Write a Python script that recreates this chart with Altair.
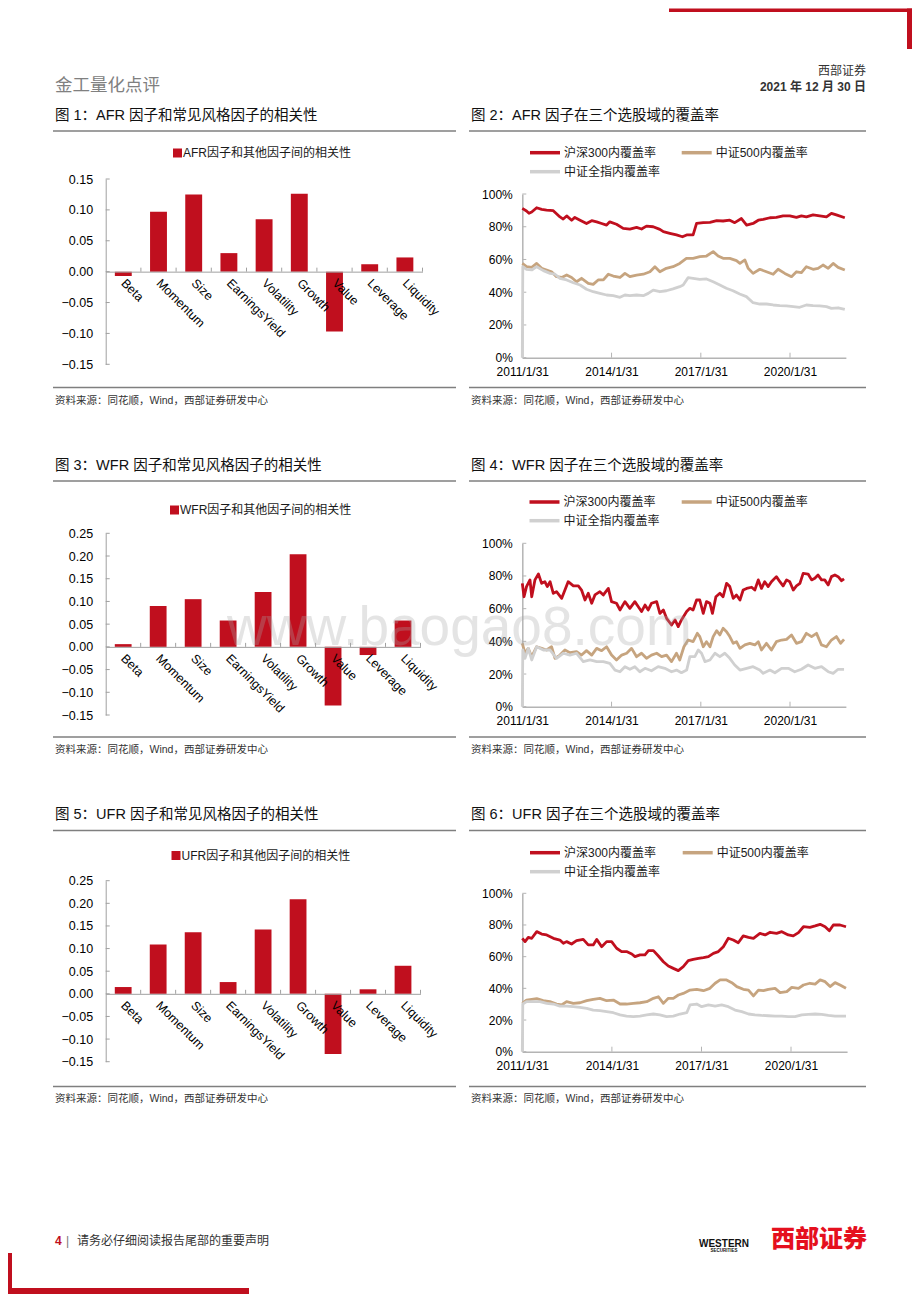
import altair as alt
import pandas as pd

# ---------------------------------------------------------------- data
FACTORS = ["Beta", "Momentum", "Size", "EarningsYield", "Volatility",
           "Growth", "Value", "Leverage", "Liquidity"]
AFR_CORR = [-0.007, 0.097, 0.125, 0.030, 0.085, 0.126, -0.097, 0.012, 0.023]
WFR_CORR = [0.006, 0.090, 0.105, 0.058, 0.121, 0.204, -0.129, -0.018, 0.058]
UFR_CORR = [0.015, 0.109, 0.136, 0.026, 0.142, 0.209, -0.133, 0.010, 0.062]
BAR_Y_TICKS_A = [-0.15, -0.10, -0.05, 0.0, 0.05, 0.10, 0.15]
BAR_Y_TICKS_B = [-0.15, -0.10, -0.05, 0.0, 0.05, 0.10, 0.15, 0.20, 0.25]

SERIES_NAMES = ["沪深300内覆盖率", "中证500内覆盖率", "中证全指内覆盖率"]
DATE_TICKS = ["2011/1/31", "2014/1/31", "2017/1/31", "2020/1/31"]
PCT_TICKS = [0, 20, 40, 60, 80, 100]

# (months since 2011/1/31, coverage %)
AFR_HS300 = [(0, 91.2), (1.7, 89.6), (2.7, 88.2), (3.8, 89.0), (5.8, 91.6), (7.8, 90.6), (9.8, 90.2),
             (12.5, 89.8), (15.2, 86.0), (16.5, 84.7), (17.9, 86.6), (19.9, 84.0), (21.2, 85.7), (23.3, 84.0),
             (25.9, 82.0), (28.0, 83.7), (30.0, 83.0), (32.0, 82.0), (34.0, 81.0), (35.3, 83.0), (38.0, 81.5),
             (40.7, 79.0), (43.4, 78.6), (46.1, 79.6), (48.1, 78.6), (50.1, 80.4), (52.8, 80.0), (55.5, 78.4),
             (56.9, 77.0), (59.5, 76.0), (62.2, 75.0), (64.6, 73.9), (66.3, 75.0), (68.9, 75.0), (70.3, 82.0),
             (73.0, 82.5), (75.7, 82.7), (78.4, 83.7), (81.0, 83.5), (83.7, 84.0), (85.7, 82.5), (88.4, 85.0),
             (90.5, 81.0), (93.1, 82.0), (95.2, 84.0), (97.2, 84.5), (99.9, 85.5), (102.5, 85.7), (105.2, 86.6),
             (107.9, 86.6), (110.6, 85.7), (112.6, 86.6), (114.6, 86.0), (117.3, 87.2), (120.0, 86.6),
             (122.7, 86.0), (124.7, 88.2), (126.7, 87.2), (130.1, 85.5)]
AFR_ZZ500 = [(0, 57.6), (1.7, 55.6), (3.8, 55.2), (5.8, 57.6), (7.8, 54.6), (9.8, 53.6), (11.8, 52.5),
             (13.8, 49.5), (15.9, 49.0), (17.9, 50.5), (19.9, 49.0), (21.9, 46.4), (23.9, 48.5), (26.6, 45.4),
             (28.6, 44.8), (30.6, 47.5), (32.7, 47.5), (34.7, 51.0), (36.7, 49.9), (39.4, 49.0), (41.4, 51.5),
             (43.4, 49.5), (46.1, 50.5), (48.8, 51.0), (51.5, 52.5), (53.5, 55.6), (55.5, 52.5), (58.1, 54.6),
             (60.8, 55.6), (63.5, 57.6), (66.2, 60.7), (68.9, 60.7), (71.6, 61.7), (74.3, 62.1), (77.0, 64.8),
             (79.0, 62.1), (81.0, 60.7), (83.7, 60.7), (86.4, 59.3), (87.8, 57.6), (89.8, 59.7), (91.1, 54.6),
             (93.1, 51.5), (95.8, 54.0), (98.5, 52.5), (101.2, 51.0), (103.2, 54.0), (105.9, 51.5), (108.6, 49.5),
             (110.6, 52.5), (112.6, 52.0), (114.6, 55.6), (117.3, 54.0), (119.3, 54.6), (121.3, 56.6),
             (123.4, 54.6), (125.4, 57.6), (127.4, 55.2), (130.1, 53.6)]
AFR_ALL = [(0, 0.0), (0.2, 55.6), (1.7, 54.0), (3.8, 53.6), (5.8, 55.6), (8.5, 53.2), (11.2, 51.5), (13.2, 51.0),
           (15.2, 48.5), (17.9, 47.5), (20.6, 45.8), (23.3, 44.4), (25.9, 41.8), (28.6, 40.3), (31.3, 39.3),
           (34.0, 38.3), (36.7, 37.9), (39.4, 36.9), (41.4, 38.3), (43.4, 37.9), (46.1, 38.3), (48.8, 37.9),
           (50.8, 39.3), (52.8, 41.3), (55.5, 40.3), (58.1, 40.9), (60.8, 42.0), (63.5, 43.4), (64.9, 44.4),
           (66.9, 48.9), (68.9, 48.5), (71.6, 47.9), (74.3, 48.1), (77.0, 46.4), (79.7, 44.4), (82.3, 42.4),
           (85.0, 40.9), (87.7, 38.9), (90.4, 37.3), (93.1, 33.6), (95.8, 32.8), (98.5, 32.8), (101.2, 32.2),
           (103.9, 31.8), (106.6, 31.6), (109.3, 31.2), (111.9, 30.8), (114.6, 32.2), (117.3, 31.8),
           (120.0, 31.6), (122.7, 31.2), (124.7, 30.1), (127.4, 30.5), (130.1, 29.5)]

WFR_HS300 = [(0, 75.5), (0.7, 67.3), (1.7, 73.5), (3.1, 77.6), (3.8, 67.3), (5.1, 77.6), (6.5, 81.2),
             (7.8, 75.5), (9.1, 76.5), (10.1, 73.5), (11.2, 76.5), (12.5, 69.4), (13.8, 70.4), (15.9, 66.3),
             (17.2, 71.4), (18.5, 76.5), (20.6, 73.9), (22.6, 73.9), (23.9, 71.4), (25.3, 65.3), (26.6, 69.4),
             (28.0, 63.3), (29.3, 68.4), (31.3, 70.4), (32.7, 68.4), (34.7, 72.4), (36.0, 64.3), (38.0, 63.3),
             (39.4, 59.2), (41.4, 64.3), (43.4, 60.2), (45.4, 64.3), (46.8, 61.2), (48.1, 58.2), (49.5, 62.2),
             (50.8, 59.2), (52.1, 63.3), (54.2, 64.3), (55.5, 57.1), (56.9, 59.2), (58.2, 54.1), (60.2, 50.0),
             (61.6, 53.1), (62.9, 49.0), (64.2, 53.1), (66.3, 58.2), (67.6, 60.2), (68.9, 59.2), (70.3, 65.3),
             (71.6, 65.3), (73.0, 57.1), (74.3, 64.3), (75.7, 63.3), (76.7, 57.1), (78.1, 67.3), (79.7, 69.4),
             (81.0, 67.3), (82.4, 75.5), (83.7, 73.5), (85.1, 66.3), (86.4, 68.4), (87.8, 65.3), (89.1, 71.4),
             (90.5, 72.4), (92.5, 73.1), (93.8, 71.4), (95.2, 77.6), (96.5, 72.4), (97.8, 76.5), (99.2, 73.5),
             (100.5, 76.5), (102.5, 79.6), (103.9, 76.5), (105.2, 73.9), (106.6, 77.6), (107.9, 76.5),
             (109.3, 71.4), (110.6, 73.9), (112.0, 75.5), (113.3, 81.6), (115.3, 81.2), (116.7, 77.6),
             (118.0, 78.6), (119.3, 80.6), (120.7, 77.6), (122.0, 77.6), (123.4, 74.5), (124.7, 79.6),
             (126.1, 80.6), (127.4, 79.6), (128.8, 77.1), (129.8, 78.2)]
WFR_ZZ500 = [(0, 38.8), (1.1, 32.7), (2.4, 35.7), (3.8, 30.6), (5.8, 36.7), (7.8, 35.7), (9.8, 34.7),
             (11.8, 36.7), (13.2, 29.6), (15.2, 31.6), (17.2, 34.7), (19.2, 33.1), (21.9, 33.7), (23.9, 31.6),
             (25.9, 34.3), (28.0, 31.6), (30.0, 35.7), (32.0, 34.3), (34.0, 36.7), (36.0, 31.6), (38.0, 28.6),
             (40.1, 31.6), (42.1, 32.7), (44.1, 35.7), (46.1, 30.6), (48.1, 32.7), (50.1, 29.6), (52.1, 31.6),
             (54.2, 32.7), (56.2, 30.6), (58.2, 31.6), (60.2, 27.6), (62.2, 32.7), (63.5, 28.6), (65.2, 36.7),
             (66.9, 40.8), (68.9, 39.8), (70.6, 44.9), (71.6, 42.9), (73.0, 36.7), (74.3, 39.8), (75.7, 36.7),
             (77.0, 42.9), (78.4, 46.5), (79.7, 43.9), (81.0, 48.0), (82.4, 45.9), (83.7, 42.9), (85.1, 38.8),
             (86.4, 39.8), (87.8, 35.7), (89.8, 37.8), (91.8, 38.8), (93.8, 37.8), (95.2, 39.8), (96.5, 34.7),
             (98.5, 38.8), (100.5, 34.7), (102.5, 39.8), (104.6, 40.8), (106.6, 41.2), (108.6, 43.9),
             (110.6, 38.8), (112.6, 39.8), (114.6, 44.9), (116.7, 42.9), (118.7, 44.9), (120.7, 37.8),
             (122.7, 36.7), (124.7, 40.8), (126.7, 42.9), (128.4, 38.8), (129.8, 41.2)]
WFR_ALL = [(0, 0.0), (0.2, 34.7), (1.1, 29.6), (2.4, 35.7), (3.8, 28.6), (5.8, 36.7), (8.5, 34.7), (11.2, 34.7),
           (13.8, 29.6), (16.5, 32.7), (19.2, 31.6), (21.9, 32.7), (24.6, 27.6), (27.3, 28.6), (30.0, 27.6),
           (32.7, 27.6), (35.3, 26.5), (37.4, 22.4), (39.4, 21.4), (41.4, 24.5), (43.4, 22.9), (45.4, 24.5),
           (47.4, 21.4), (49.5, 23.5), (52.1, 22.0), (54.8, 24.5), (57.5, 23.5), (60.2, 21.4), (62.2, 22.4),
           (64.2, 20.8), (66.3, 22.4), (67.6, 30.6), (69.6, 30.6), (71.0, 34.7), (72.3, 32.7), (73.7, 27.6),
           (75.7, 28.6), (77.7, 32.7), (79.7, 30.6), (81.7, 32.7), (83.7, 29.6), (85.7, 25.5), (87.8, 22.4),
           (90.5, 23.5), (93.1, 24.5), (95.8, 22.4), (97.2, 20.4), (99.9, 22.4), (101.9, 20.8), (104.6, 23.5),
           (107.3, 23.5), (109.9, 21.4), (112.6, 22.9), (115.3, 25.5), (118.0, 23.5), (120.7, 24.5),
           (123.4, 21.4), (125.4, 20.4), (127.4, 22.9), (129.8, 22.9)]

UFR_HS300 = [(0, 71.6), (1.1, 69.5), (2.4, 72.2), (3.8, 71.6), (5.8, 75.8), (7.8, 74.3), (9.8, 73.7),
             (12.5, 71.6), (15.1, 70.5), (16.5, 68.4), (17.8, 69.5), (19.8, 68.0), (21.8, 70.1), (24.5, 70.9),
             (26.5, 67.4), (28.5, 67.4), (29.9, 70.9), (31.9, 66.3), (33.9, 69.5), (35.9, 69.5), (37.9, 65.3),
             (39.9, 63.2), (41.9, 63.2), (44.0, 61.7), (45.3, 60.0), (47.3, 61.1), (49.3, 61.1), (50.7, 63.8),
             (52.7, 63.8), (54.7, 60.4), (56.7, 56.8), (58.7, 54.1), (60.7, 52.6), (62.7, 51.2), (64.7, 53.7),
             (66.7, 57.5), (68.7, 58.3), (70.8, 58.9), (72.8, 59.4), (74.8, 60.0), (76.8, 62.1), (78.8, 63.2),
             (80.8, 66.3), (82.8, 71.6), (84.8, 70.5), (86.8, 68.8), (88.8, 73.1), (90.9, 72.2), (92.9, 71.6),
             (95.5, 74.7), (97.6, 73.7), (99.6, 75.4), (102.2, 74.7), (104.3, 75.8), (106.9, 73.7),
             (108.9, 73.1), (111.0, 75.2), (113.0, 78.9), (115.6, 78.5), (117.7, 79.4), (119.7, 80.4),
             (121.7, 78.9), (123.4, 76.4), (125.0, 80.0), (127.7, 80.0), (130.1, 78.9)]
UFR_ZZ500 = [(0, 30.5), (1.7, 32.6), (3.8, 33.1), (5.8, 33.5), (8.4, 32.2), (11.1, 31.6), (13.8, 30.1),
             (15.8, 29.5), (17.8, 31.6), (20.5, 30.5), (23.2, 30.9), (25.9, 32.2), (28.5, 33.1), (31.2, 33.7),
             (33.9, 32.2), (36.6, 32.6), (39.3, 30.1), (41.9, 30.1), (44.6, 30.5), (47.3, 30.9), (50.0, 31.6),
             (52.7, 33.7), (54.7, 34.7), (56.7, 30.5), (58.7, 33.7), (60.7, 33.7), (62.7, 35.8), (64.7, 36.8),
             (67.4, 38.9), (70.1, 39.4), (72.8, 38.5), (75.4, 40.0), (77.5, 43.2), (79.5, 45.3), (82.1, 45.3),
             (84.2, 43.6), (86.2, 41.1), (88.8, 39.4), (90.9, 38.9), (92.9, 35.2), (94.9, 38.9), (96.9, 38.5),
             (98.9, 39.4), (101.6, 40.0), (103.6, 37.3), (106.3, 37.9), (108.3, 40.6), (111.0, 40.0),
             (113.0, 42.1), (115.6, 43.2), (117.7, 42.7), (119.7, 45.3), (121.7, 44.2), (123.7, 41.1),
             (125.7, 43.6), (127.7, 42.1), (130.1, 40.0)]
UFR_ALL = [(0, 0.0), (0.2, 30.1), (1.7, 31.6), (4.4, 31.6), (7.1, 31.6), (9.8, 30.5), (12.5, 30.1), (15.1, 28.8),
           (17.8, 28.8), (20.5, 28.4), (23.2, 28.0), (25.9, 27.4), (28.5, 26.3), (31.2, 25.9), (33.9, 25.3),
           (36.6, 24.6), (39.3, 23.2), (41.9, 22.5), (44.6, 22.1), (47.3, 22.5), (50.0, 23.2), (52.7, 23.8),
           (55.3, 23.2), (58.0, 22.1), (60.7, 22.5), (63.4, 23.8), (66.1, 24.6), (67.4, 29.5), (70.1, 30.1),
           (72.1, 28.4), (74.8, 29.5), (77.5, 28.8), (80.1, 29.5), (82.8, 28.4), (85.5, 26.3), (88.2, 25.3),
           (90.9, 23.8), (93.5, 23.2), (96.2, 22.9), (98.9, 22.7), (101.6, 22.5), (104.3, 22.5), (106.9, 22.1),
           (109.6, 22.1), (112.3, 23.2), (115.0, 23.6), (117.7, 23.8), (120.3, 23.6), (123.0, 22.9),
           (125.7, 22.5), (130.1, 22.5)]

# ---------------------------------------------------------------- style / layout
OX, OY = 8, 8
W, H = 904, 1286
RED = "#C00F1E"
TAN = "#C6A47F"
GRAY = "#D0D0D0"
AXIS_C = "#A0A0A0"
LAXIS_C = "#B4B4B4"
LATIN = "Liberation Sans"
MIX = "Liberation Sans, Noto Sans CJK SC"
TXT = "#1A1A1A"

START = pd.Timestamp("2011-01-31")
END = pd.Timestamp("2021-12-17")


def dt(ts):
    return alt.DateTime(year=ts.year, month=ts.month, date=ts.day)


def text_layer(items, size, color=TXT, align="left", weight="normal", font=MIX,
               baseline="middle", opacity=1.0):
    df = pd.DataFrame({"x": [i[0] - OX for i in items],
                       "y": [i[1] - OY for i in items],
                       "t": [i[2] for i in items]})
    return alt.Chart(df).mark_text(align=align, baseline=baseline, fontSize=size, color=color,
                                   fontWeight=weight, font=font, opacity=opacity).encode(
        x=alt.X("x:Q", scale=None, axis=None),
        y=alt.Y("y:Q", scale=None, axis=None),
        text="t:N")


def seg_layer(segs, color, width, kind="rule"):
    df = pd.DataFrame({"x": [s[0] - OX for s in segs], "x2": [s[1] - OX for s in segs],
                       "y": [s[2] - OY for s in segs], "y2": [s[3] - OY for s in segs]})
    if kind == "rule":
        m = alt.Chart(df).mark_rule(color=color, strokeWidth=width)
    else:
        m = alt.Chart(df).mark_rect(color=color)
    return m.encode(x=alt.X("x:Q", scale=None, axis=None), x2="x2:Q",
                    y=alt.Y("y:Q", scale=None, axis=None), y2="y2:Q")


def bar_panel(vals, legend, box, lo, hi, yvals, leg):
    x0, x1, ytop, ybot = box
    X0, X1, YT, YB = x0 - OX, x1 - OX, ytop - OY, ybot - OY
    yzero = YB + (YT - YB) * (0 - lo) / (hi - lo)

    def ys():
        return alt.Scale(domain=[lo, hi], range=[YB, YT], nice=False)

    df = pd.DataFrame({"factor": FACTORS, "corr": vals})
    bars = alt.Chart(df).mark_bar(color=RED).encode(
        x=alt.X("factor:N", sort=FACTORS, title=None,
                scale=alt.Scale(domain=FACTORS, range=[X0, X1], paddingInner=0.52, paddingOuter=0.26),
                axis=alt.Axis(orient="bottom", offset=yzero - H, domainColor=AXIS_C, domainWidth=1,
                              ticks=False, tickSize=0, labelAngle=45, labelAlign="left",
                              labelBaseline="middle", labelPadding=9, labelFontSize=12.5,
                              labelFont=LATIN, labelColor="#000", labelOverlap=False,
                              labelBound=False, grid=False, zindex=1)),
        y=alt.Y("corr:Q", title=None, stack=None, scale=ys(),
                axis=alt.Axis(orient="left", offset=-X0, values=yvals, format=".2f",
                              domainColor=AXIS_C, domainWidth=1, ticks=False, tickSize=0,
                              labelPadding=13, labelFontSize=12.5, labelFont=LATIN,
                              labelColor="#000", grid=False, labelOverlap=False, labelFlush=False)),
    )
    yt = alt.Chart(pd.DataFrame({"v": yvals})).mark_rule(color=AXIS_C, strokeWidth=1).encode(
        y=alt.Y("v:Q", scale=ys(), axis=None), x=alt.value(X0), x2=alt.value(X0 + 4))
    xt = alt.Chart(pd.DataFrame({"k": list(range(1, len(FACTORS) + 1))})).mark_rule(
        color=AXIS_C, strokeWidth=1).encode(
        x=alt.X("k:Q", scale=alt.Scale(domain=[0, len(FACTORS)], range=[X0, X1]), axis=None),
        y=alt.value(yzero), y2=alt.value(yzero - 4))
    lx, ly = leg
    sq = seg_layer([(lx, lx + 9, ly - 4.5, ly + 4.5)], RED, 0, kind="rect")
    lt = text_layer([(lx + 10, ly, legend)], 12)
    return [yt, xt, bars, sq, lt]


def to_df(pairs):
    return pd.DataFrame({
        "date": [START + pd.Timedelta(days=round(p[0] * 30.4375, 2)) for p in pairs],
        "pct": [p[1] for p in pairs]})


def line_panel(series, box, x2020, leg):
    x0, ytop, ybot = box
    X0, YT, YB = x0 - OX, ytop - OY, ybot - OY
    d2020 = (pd.Timestamp("2020-01-31") - START).days
    dend = (END - START).days
    XE = X0 + (x2020 - x0) * dend / d2020

    def xs():
        return alt.Scale(domain=[dt(START), dt(END)], range=[X0, XE])

    def ys():
        return alt.Scale(domain=[0, 100], range=[YB, YT], nice=False)

    tick_dates = [pd.Timestamp(s.replace("/", "-")) for s in DATE_TICKS]
    out = []
    colors = [RED, TAN, GRAY]
    for i, pairs in enumerate(series):
        df = to_df(pairs)
        if i == 0:
            xa = alt.Axis(orient="bottom", offset=YB - H, values=[dt(t) for t in tick_dates],
                          format="%Y/%-m/%-d", formatType="time", labelFlush=False,
                          ticks=False, tickSize=0, labelPadding=9, labelFontSize=12,
                          labelFont=LATIN, labelColor="#000", domainColor=LAXIS_C,
                          domainWidth=1.5, labelOverlap=False, grid=False)
            ya = alt.Axis(orient="left", offset=-X0, values=PCT_TICKS,
                          labelExpr="datum.value + '%'", ticks=False, tickSize=0,
                          labelPadding=10, labelFontSize=12, labelFont=LATIN, labelColor="#000",
                          domainColor=LAXIS_C, domainWidth=1.5, grid=False, labelFlush=False,
                          labelOverlap=False)
        else:
            xa = None
            ya = None
        out.append(alt.Chart(df).mark_line(color=colors[i], strokeWidth=2.8, strokeJoin="round").encode(
            x=alt.X("date:T", title=None, scale=xs(), axis=xa),
            y=alt.Y("pct:Q", title=None, scale=ys(), axis=ya)))
    yt = alt.Chart(pd.DataFrame({"v": PCT_TICKS})).mark_rule(color=LAXIS_C, strokeWidth=1).encode(
        y=alt.Y("v:Q", scale=ys(), axis=None), x=alt.value(X0), x2=alt.value(X0 + 4))
    xt = alt.Chart(pd.DataFrame({"d": tick_dates[1:]})).mark_rule(color=LAXIS_C, strokeWidth=1).encode(
        x=alt.X("d:T", scale=xs(), axis=None), y=alt.value(YB), y2=alt.value(YB - 5))
    (ax, bx, ly1, ly2) = leg
    samples = [seg_layer([(ax, ax + 30, ly1, ly1)], RED, 3.5),
               seg_layer([(bx, bx + 30, ly1, ly1)], TAN, 3.5),
               seg_layer([(ax, ax + 30, ly2, ly2)], GRAY, 3.5)]
    labels = text_layer([(ax + 34, ly1, SERIES_NAMES[0]), (bx + 34, ly1, SERIES_NAMES[1]),
                         (ax + 34, ly2, SERIES_NAMES[2])], 12)
    return [yt, xt] + out + samples + [labels]


# ---------------------------------------------------------------- page
layers = []

# header
layers.append(seg_layer([(669, 912, 8.5, 12)], RED, 0, kind="rect"))
layers.append(seg_layer([(907, 912, 8.5, 49)], RED, 0, kind="rect"))
layers.append(text_layer([(55, 86, "金工量化点评")], 17.5, color="#808080"))
layers.append(text_layer([(866, 71, "西部证券")], 12, align="right", color="#333333"))
layers.append(text_layer([(866, 87, "2021 年 12 月 30 日")], 12, align="right", weight="bold",
                         color="#333333"))

TITLES = [(55, 116, "图 1：AFR 因子和常见风格因子的相关性"), (471, 116, "图 2：AFR 因子在三个选股域的覆盖率"),
          (55, 466, "图 3：WFR 因子和常见风格因子的相关性"), (471, 466, "图 4：WFR 因子在三个选股域的覆盖率"),
          (55, 815, "图 5：UFR 因子和常见风格因子的相关性"), (471, 815, "图 6：UFR 因子在三个选股域的覆盖率")]
layers.append(text_layer(TITLES, 14.5, color="#111111"))

SRC = "资料来源：同花顺，Wind，西部证券研发中心"
layers.append(text_layer([(55, 401, SRC), (471, 401, SRC), (55, 750, SRC), (471, 750, SRC),
                          (55, 1099, SRC), (471, 1099, SRC)], 10.5, color="#333333"))

HL = []
for y in (131, 387.5, 481, 737, 830.5, 1086.5):
    HL.append((53, 456, y, y))
    HL.append((469, 866, y, y))
layers.append(seg_layer(HL, "#7F7F7F", 1.3))

# panels
layers += bar_panel(AFR_CORR, "AFR因子和其他因子间的相关性", (105.7, 422.5, 179, 364.3),
                    -0.15, 0.15, BAR_Y_TICKS_A, (173, 153))
layers += bar_panel(WFR_CORR, "WFR因子和其他因子间的相关性", (105.7, 420.5, 533.3, 715),
                    -0.15, 0.25, BAR_Y_TICKS_B, (170, 510))
layers += bar_panel(UFR_CORR, "UFR因子和其他因子间的相关性", (105.7, 420.5, 880.7, 1061.7),
                    -0.15, 0.25, BAR_Y_TICKS_B, (171.5, 855.5))

layers += line_panel([AFR_HS300, AFR_ZZ500, AFR_ALL], (522.3, 194, 357.7), 790,
                     (530, 681.7, 152.7, 171.7))
layers += line_panel([WFR_HS300, WFR_ZZ500, WFR_ALL], (522.3, 543.3, 706.7), 790,
                     (529.5, 681.7, 502, 520.7))
layers += line_panel([UFR_HS300, UFR_ZZ500, UFR_ALL], (522.3, 893.3, 1051.7), 791,
                     (530, 682.7, 852.7, 871.7))

# footer
layers.append(text_layer([(55, 1241, "4")], 12, color=RED, weight="bold", font=LATIN))
layers.append(text_layer([(66, 1241, "|")], 12, color="#777777", font=LATIN))
layers.append(text_layer([(77, 1241, "请务必仔细阅读报告尾部的重要声明")], 12, color="#333333"))
layers.append(text_layer([(724, 1243.5, "WESTERN")], 10, align="center", weight="bold",
                         color="#111111", font=LATIN))
layers.append(text_layer([(724, 1250.5, "SECURITIES")], 4.5, align="center", weight="bold",
                         color="#111111", font=LATIN))
layers.append(text_layer([(867, 1240, "西部证券")], 24, align="right", weight=900, color="#E5101E",
                         font="Noto Sans CJK SC"))
layers.append(seg_layer([(8, 12, 1253, 1294)], RED, 0, kind="rect"))
layers.append(seg_layer([(8, 249, 1288, 1294)], RED, 0, kind="rect"))

# watermark
layers.append(text_layer([(227, 645, "www.baogao8.com")], 55, color="#A8A8A8", baseline="alphabetic",
                         font=LATIN, opacity=0.3))

chart = alt.layer(*layers).resolve_scale(
    x="independent", y="independent"
).resolve_axis(
    x="independent", y="independent"
).properties(
    width=W, height=H, autosize=alt.AutoSizeParams(type="none"), padding=0
).configure_view(stroke=None)

chart.save("out.html", embed_options={"renderer": "svg", "actions": False})
